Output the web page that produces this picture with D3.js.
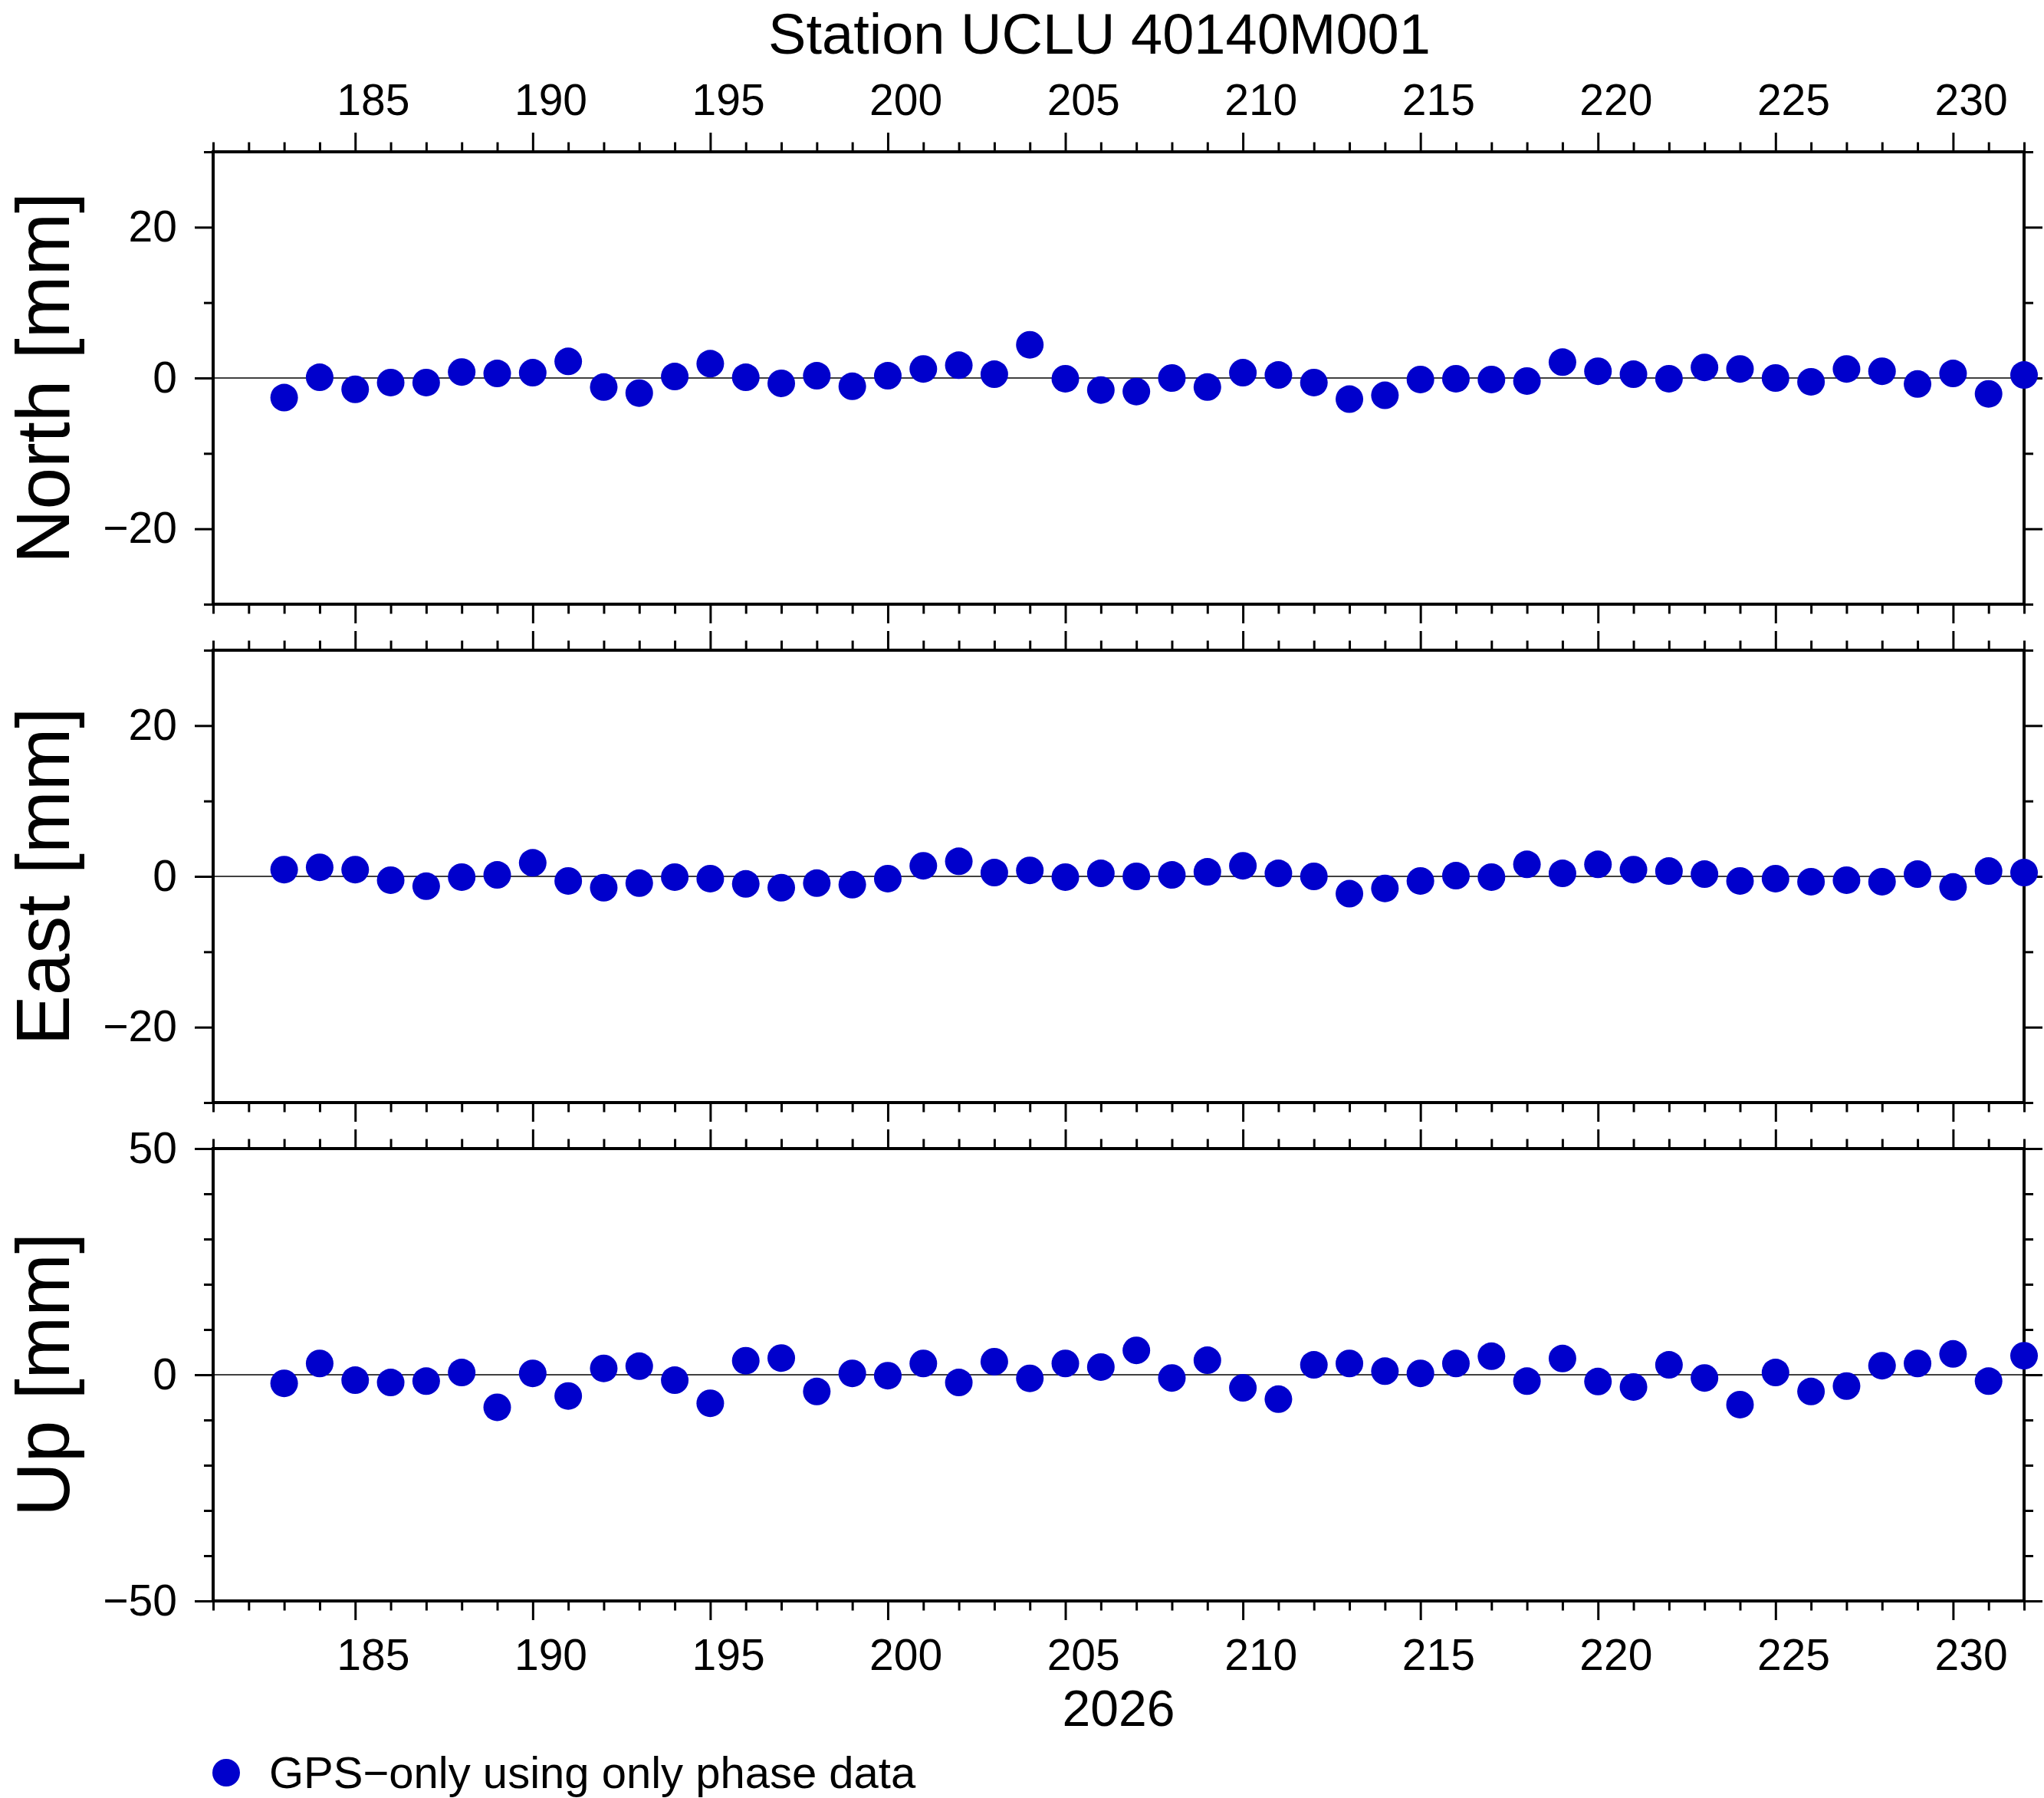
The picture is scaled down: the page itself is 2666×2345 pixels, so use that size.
<!DOCTYPE html>
<html>
<head>
<meta charset="utf-8">
<script src="https://cdn.jsdelivr.net/npm/d3@7/dist/d3.min.js"></script>
<style>
  html, body { margin: 0; padding: 0; background: #fff; }
  svg { display: block; }
  text { font-family: "Liberation Sans", Arial, Helvetica, sans-serif; fill: #000; }
</style>
</head>
<body>
<svg id="chart" width="2666" height="2345"></svg>
<script>
// ---- data ----
const title = "Station UCLU 40140M001";
const yearLabel = "2026";
const legendLabel = "GPS\u2212only using only phase data";
const days = [183,184,185,186,187,188,189,190,191,192,193,194,195,196,197,198,199,200,201,202,203,204,205,206,207,208,209,210,211,212,213,214,215,216,217,218,219,220,221,222,223,224,225,226,227,228,229,230,231,232];
const north = [-2.6,0.1,-1.5,-0.6,-0.6,0.8,0.6,0.7,2.2,-1.2,-2.0,0.2,
  1.9,0.1,-0.7,0.3,-1.1,0.3,1.2,1.7,0.5,4.4,-0.1,-1.6,-1.8,0.0,-1.2,0.7,0.4,-0.6,-2.8,
  -2.3,-0.2,-0.1,-0.2,-0.4,2.1,0.9,0.5,-0.1,1.4,1.2,0.0,-0.5,1.2,0.9,-0.8,0.6,-2.1,0.4];
const east = [0.9,1.2,0.9,-0.5,-1.3,-0.1,0.2,1.8,-0.6,-1.5,-0.9,-0.1,-0.3,-1.0,-1.5,-0.9,-1.1,-0.3,1.4,2.0,0.5,0.8,-0.1,0.4,
  0.0,0.2,0.6,1.4,0.4,0.0,-2.3,-1.6,-0.6,0.1,-0.1,1.6,0.4,1.6,0.9,0.7,0.3,-0.6,-0.3,-0.7,-0.5,-0.7,0.3,-1.4,0.7,0.5];
const up = [-1.9,2.5,-1.2,-1.7,-1.4,0.5,-7.2,0.3,-4.7,1.4,1.9,-1.2,-6.3,3.1,3.7,-3.7,0.3,-0.2,2.5,-1.7,2.9,-0.8,2.5,1.7,
  5.4,-0.7,3.2,-2.9,-5.4,2.2,2.5,0.8,0.3,2.5,4.1,-1.4,3.6,-1.5,-2.7,2.2,-0.7,-6.6,0.5,-3.7,-2.5,2.0,2.5,4.6,-1.4,4.2];
const xDomain = [181, 232];
const xMajorTicks = [185,190,195,200,205,210,215,220,225,230];
const xMinorTicks = [181,182,183,184,186,187,188,189,191,192,193,194,196,197,198,199,201,202,203,204,206,207,208,209,211,212,213,214,216,217,218,219,221,222,223,224,226,227,228,229,231,232];
const panelNames = ["North [mm]", "East [mm]", "Up [mm]"];
const panelSeries = [north, east, up];
const panelDomains = [[-30, 30], [-30, 30], [-50, 50]];
const panelMajor = [[-20, 0, 20], [-20, 0, 20], [-50, 0, 50]];
const panelMinor = [[-30,-10,10,30], [-30,-10,10,30], [-40,-30,-20,-10,10,20,30,40]];

// ---- layout ----
const W = 2666, H = 2345;
const left = 278, right = 2640;
const panelTops = [198, 848, 1498];
const panelH = 590;
const dotColor = "#0000cc";
const dotR = 18;
const fs = 57;

const svg = d3.select("#chart");
const x = d3.scaleLinear().domain(xDomain).range([left, right]);
// label scale: annotations centred half a day right of the tick
const xLab = x.copy().domain([xDomain[0] - 0.5, xDomain[1] - 0.5]);

function styleAxis(g, width) {
  g.select(".domain").remove();
  g.selectAll(".tick line").attr("stroke", "#000").attr("stroke-width", width);
  g.selectAll(".tick text").attr("font-size", fs).attr("fill", "#000")
    .style("font-family", '"Liberation Sans", Arial, Helvetica, sans-serif');
}

panelSeries.forEach((series, i) => {
  const top = panelTops[i], bottom = top + panelH;
  const y = d3.scaleLinear().domain(panelDomains[i]).range([bottom, top]);
  const g = svg.append("g");

  // zero line
  g.append("line").attr("x1", left).attr("x2", right)
    .attr("y1", y(0)).attr("y2", y(0))
    .attr("stroke", "#000").attr("stroke-width", 1.3);

  // x ticks top & bottom
  const gxTopMaj = g.append("g").attr("transform", `translate(0,${top})`)
    .call(d3.axisTop(x).tickValues(xMajorTicks).tickSize(25).tickFormat(""));
  styleAxis(gxTopMaj, 3);
  const gxTopMin = g.append("g").attr("transform", `translate(0,${top})`)
    .call(d3.axisTop(x).tickValues(xMinorTicks).tickSize(12.5).tickFormat(""));
  styleAxis(gxTopMin, 3);
  const gxBotMaj = g.append("g").attr("transform", `translate(0,${bottom})`)
    .call(d3.axisBottom(x).tickValues(xMajorTicks).tickSize(25).tickFormat(""));
  styleAxis(gxBotMaj, 3);
  const gxBotMin = g.append("g").attr("transform", `translate(0,${bottom})`)
    .call(d3.axisBottom(x).tickValues(xMinorTicks).tickSize(12.5).tickFormat(""));
  styleAxis(gxBotMin, 3);

  if (i === 0) {
    const gl = g.append("g").attr("transform", `translate(0,${top})`)
      .call(d3.axisTop(xLab).tickValues(xMajorTicks).tickSize(0).tickPadding(48));
    styleAxis(gl, 0);
  }
  if (i === panelSeries.length - 1) {
    const gl = g.append("g").attr("transform", `translate(0,${bottom})`)
      .call(d3.axisBottom(xLab).tickValues(xMajorTicks).tickSize(0).tickPadding(50));
    styleAxis(gl, 0);
  }

  // y ticks left & right
  const gyL = g.append("g").attr("transform", `translate(${left},0)`)
    .call(d3.axisLeft(y).tickValues(panelMajor[i]).tickSize(24).tickPadding(23));
  styleAxis(gyL, 3);
  const gyLm = g.append("g").attr("transform", `translate(${left},0)`)
    .call(d3.axisLeft(y).tickValues(panelMinor[i]).tickSize(12).tickFormat(""));
  styleAxis(gyLm, 3);
  const gyR = g.append("g").attr("transform", `translate(${right},0)`)
    .call(d3.axisRight(y).tickValues(panelMajor[i]).tickSize(24).tickFormat(""));
  styleAxis(gyR, 3);
  const gyRm = g.append("g").attr("transform", `translate(${right},0)`)
    .call(d3.axisRight(y).tickValues(panelMinor[i]).tickSize(12).tickFormat(""));
  styleAxis(gyRm, 3);

  // frame
  g.append("rect").attr("x", left).attr("y", top)
    .attr("width", right - left).attr("height", panelH)
    .attr("fill", "none").attr("stroke", "#000").attr("stroke-width", 4);

  // dots
  g.append("g").selectAll("circle").data(series).join("circle")
    .attr("cx", (d, j) => x(days[j]))
    .attr("cy", d => y(d))
    .attr("r", dotR)
    .attr("fill", dotColor);

  // y title
  svg.append("text")
    .attr("transform", `translate(90,${(top + bottom) / 2}) rotate(-90)`)
    .attr("text-anchor", "middle")
    .attr("font-size", 98)
    .text(panelNames[i]);
});

// title
svg.append("text").attr("x", 1434).attr("y", 70)
  .attr("text-anchor", "middle").attr("font-size", 74).text(title);

// year label
svg.append("text").attr("x", (left + right) / 2).attr("y", 2251)
  .attr("text-anchor", "middle").attr("font-size", 66).text(yearLabel);

// legend
svg.append("circle").attr("cx", 295).attr("cy", 2312).attr("r", dotR).attr("fill", dotColor);
svg.append("text").attr("x", 351).attr("y", 2332).attr("font-size", 58).text(legendLabel);
</script>
</body>
</html>
